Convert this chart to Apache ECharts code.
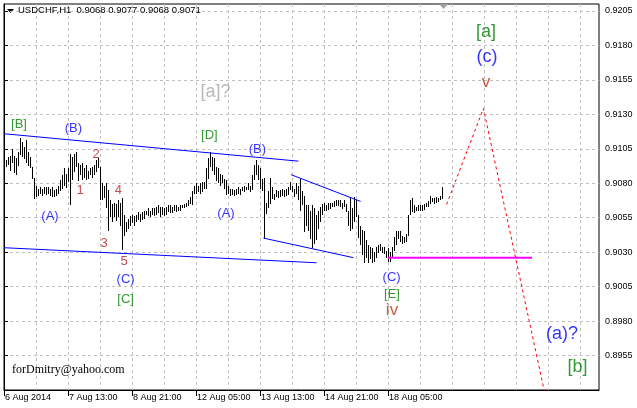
<!DOCTYPE html>
<html><head><meta charset="utf-8">
<script src="https://cdn.jsdelivr.net/npm/echarts@6/dist/echarts.min.js"></script>
<style>html,body{margin:0;padding:0;background:#fff}#c{width:637px;height:408px}</style>
</head><body><div id="c"></div><script>
// ---- data ----
const symbolName = 'USDCHF,H1';
const ohlcNow = [0.9068, 0.9077, 0.9068, 0.9071];
const timeLabels = ['6 Aug 2014','7 Aug 13:00','8 Aug 21:00','12 Aug 05:00','13 Aug 13:00','14 Aug 21:00','18 Aug 05:00'];
const timeLabelBars = [0, 32, 64, 96, 128, 160, 192];
const highs = [
0.9095,0.9097,0.9099,0.9100,0.9105,0.9100,0.9098,0.9103,0.9113,0.9110,
0.9106,0.9111,0.9103,0.9099,0.9092,0.9084,0.9078,0.9076,0.9077,0.9076,
0.9077,0.9077,0.9077,0.9076,0.9077,0.9075,0.9076,0.9078,0.9082,0.9086,
0.9091,0.9087,0.9091,0.9101,0.9099,0.9101,0.9103,0.9095,0.9093,0.9095,
0.9091,0.9093,0.9089,0.9091,0.9092,0.9093,0.9097,0.9098,0.9092,0.9080,
0.9078,0.9080,0.9075,0.9068,0.9065,0.9066,0.9065,0.9068,0.9066,0.9069,
0.9057,0.9052,0.9054,0.9056,0.9057,0.9056,0.9057,0.9059,0.9058,0.9059,
0.9060,0.9060,0.9062,0.9060,0.9062,0.9062,0.9063,0.9064,0.9063,0.9063,
0.9062,0.9063,0.9064,0.9064,0.9063,0.9064,0.9064,0.9063,0.9064,0.9064,
0.9065,0.9066,0.9068,0.9070,0.9074,0.9078,0.9080,0.9078,0.9080,0.9081,
0.9081,0.9091,0.9098,0.9103,0.9099,0.9098,0.9092,0.9091,0.9087,0.9086,
0.9083,0.9082,0.9078,0.9076,0.9076,0.9075,0.9076,0.9077,0.9076,0.9077,
0.9078,0.9077,0.9080,0.9078,0.9086,0.9093,0.9097,0.9093,0.9091,0.9083,
0.9084,0.9066,0.9074,0.9084,0.9077,0.9072,0.9075,0.9074,0.9075,0.9076,
0.9075,0.9076,0.9077,0.9081,0.9078,0.9076,0.9080,0.9078,0.9083,0.9074,
0.9071,0.9064,0.9064,0.9060,0.9064,0.9062,0.9057,0.9060,0.9063,0.9065,
0.9066,0.9064,0.9066,0.9066,0.9066,0.9067,0.9068,0.9068,0.9068,0.9066,
0.9068,0.9065,0.9060,0.9069,0.9062,0.9070,0.9068,0.9057,0.9049,0.9046,
0.9045,0.9039,0.9035,0.9034,0.9033,0.9030,0.9034,0.9035,0.9036,0.9034,
0.9034,0.9031,0.9033,0.9030,0.9034,0.9041,0.9045,0.9045,0.9045,0.9042,
0.9041,0.9043,0.9057,0.9068,0.9069,0.9064,0.9063,0.9064,0.9064,0.9064,
0.9065,0.9066,0.9067,0.9071,0.9069,0.9069,0.9070,0.9069,0.9071,0.9077];
const lows = [
0.9091,0.9092,0.9093,0.9089,0.9095,0.9088,0.9086,0.9093,0.9101,0.9099,
0.9097,0.9094,0.9093,0.9091,0.9083,0.9069,0.9070,0.9071,0.9072,0.9071,
0.9072,0.9071,0.9072,0.9071,0.9070,0.9070,0.9071,0.9072,0.9074,0.9076,
0.9078,0.9077,0.9081,0.9064,0.9082,0.9088,0.9092,0.9082,0.9086,0.9083,
0.9084,0.9082,0.9083,0.9086,0.9084,0.9086,0.9088,0.9091,0.9068,0.9068,
0.9069,0.9062,0.9045,0.9056,0.9052,0.9056,0.9053,0.9056,0.9049,0.9031,
0.9042,0.9045,0.9047,0.9049,0.9051,0.9049,0.9052,0.9053,0.9052,0.9053,
0.9054,0.9057,0.9056,0.9056,0.9057,0.9056,0.9057,0.9058,0.9056,0.9057,
0.9056,0.9057,0.9059,0.9058,0.9059,0.9060,0.9059,0.9060,0.9060,0.9062,
0.9062,0.9063,0.9064,0.9065,0.9064,0.9072,0.9072,0.9074,0.9072,0.9074,
0.9076,0.9076,0.9083,0.9092,0.9089,0.9086,0.9082,0.9080,0.9078,0.9080,
0.9076,0.9071,0.9072,0.9071,0.9072,0.9071,0.9072,0.9072,0.9072,0.9074,
0.9074,0.9075,0.9075,0.9074,0.9075,0.9082,0.9086,0.9082,0.9076,0.9074,
0.9040,0.9058,0.9062,0.9065,0.9068,0.9068,0.9070,0.9069,0.9070,0.9071,
0.9070,0.9071,0.9071,0.9075,0.9074,0.9070,0.9072,0.9068,0.9060,0.9064,
0.9045,0.9049,0.9045,0.9040,0.9033,0.9036,0.9039,0.9047,0.9052,0.9057,
0.9060,0.9060,0.9061,0.9062,0.9063,0.9063,0.9064,0.9064,0.9063,0.9062,
0.9063,0.9059,0.9049,0.9045,0.9047,0.9052,0.9056,0.9040,0.9035,0.9028,
0.9022,0.9026,0.9022,0.9025,0.9022,0.9023,0.9026,0.9029,0.9031,0.9030,
0.9029,0.9026,0.9023,0.9023,0.9026,0.9031,0.9035,0.9039,0.9037,0.9036,
0.9037,0.9037,0.9042,0.9057,0.9059,0.9058,0.9060,0.9060,0.9060,0.9060,
0.9061,0.9063,0.9063,0.9065,0.9066,0.9065,0.9066,0.9066,0.9068,0.9068];
// trend lines: [barIndex, price]
const upperLine = [[0, 0.91159], [147.2, 0.90960]];
const lowerLine = [[0, 0.90332], [156.3, 0.90223]];
const channelUpper = [[143.5, 0.90862], [178.3, 0.90668]];
const channelLower = [[129.7, 0.90402], [174.7, 0.90260]];
const projection = [[221.3, 0.90646], [239.7, 0.91342], [270.2, 0.8929]];
const supportLine = [[192, 0.9026], [264, 0.9026]];
// wave labels
const waveText = ['[B]','(B)','2','1','4','3','5','(A)','(C)','[C]','[a]?','[D]','(A)','(B)','(C)','[E]','iv','[a]','(c)','v','(a)?','[b]'];
const waveX = [7.5,34.7,46,38,57.2,50,60,23,60.8,60.8,105.7,102.7,111,126.7,193.8,194,194,241,241.5,241,279,286.8];
const waveY = [0.9123,0.91195,0.9101,0.9075,0.9075,0.9036,0.9023,0.9056,0.9010,0.8996,0.9146,0.91146,0.9058,0.91043,0.90117,0.89996,0.89876,0.91898,0.91717,0.91535,0.89709,0.8947];
const waveKind = ['G','B','R','R','R','R','R','B','B','G','Q','G','B','B','B','G','R2','G2','B2','R2','B2','G2'];

// ---- styles ----
const kindStyle = {
  G:{color:'#008000',fontSize:13}, B:{color:'#0000ff',fontSize:13}, R:{color:'#b22222',fontSize:13},
  Q:{color:'#a8a8a8',fontSize:18}, R2:{color:'#b5331c',fontSize:17}, G2:{color:'#008000',fontSize:18},
  B2:{color:'#0000ff',fontSize:18}
};
const axisFont = 'Liberation Sans, Arial, sans-serif';
const gridDash = {color:'#c0c0c0', type:[3,3], width:1};

const chart = echarts.init(document.getElementById('c'), null, {renderer:'canvas'});
const lineSeries = (data, color, width, type) => ({
  type:'line', data, showSymbol:false, silent:true, animation:false, clip:true, z:4,
  lineStyle:{color, width, type: type || 'solid'}
});
chart.setOption({
  animation:false,
  backgroundColor:'#fff',
  title:[
    {text: symbolName + '  ' + ohlcNow.map(v=>v.toFixed(4)).join(' '), left:18, top:5, padding:0,
     textStyle:{fontSize:9.5, fontWeight:'normal', fontFamily:axisFont, color:'#000', lineHeight:11}},
    {text:'forDmitry@yahoo.com', left:12, top:364, padding:0,
     textStyle:{fontSize:12, fontWeight:'normal', fontFamily:'Liberation Serif, Times New Roman, serif', color:'#000', lineHeight:12}}
  ],
  graphic:[
    {type:'polygon', shape:{points:[[7,9],[14,9],[10.5,13]]}, style:{fill:'#000'}},
    {type:'polygon', shape:{points:[[439,4],[448,4],[443.5,9]]}, style:{fill:'#a0a0a0'}, z:10}
  ],
  grid:{left:4, right:38, top:4, bottom:18, show:true, borderColor:'#000', borderWidth:1, backgroundColor:'#fff'},
  xAxis:[
    {type:'value', min:0, max:297.5, interval:16, position:'bottom',
     axisLine:{show:true, lineStyle:{color:'#000'}}, axisTick:{show:false}, axisLabel:{show:false},
     splitLine:{show:true, showMinLine:false, showMaxLine:false, lineStyle:gridDash}},
    {type:'value', min:0, max:297.5, interval:32, position:'bottom',
     axisLine:{show:false}, splitLine:{show:false},
     axisTick:{show:true, length:6, customValues:timeLabelBars, lineStyle:{color:'#000'}},
     axisLabel:{show:true, customValues:timeLabelBars, hideOverlap:false, align:'left', margin:3, padding:[0,0,0,1],
       fontSize:9, fontFamily:axisFont, color:'#000',
       formatter:(v)=>{const k=timeLabelBars.indexOf(Math.round(v)); return k>=0 ? timeLabels[k] : '';}}}
  ],
  yAxis:{type:'value', position:'right', min:0.8930, max:0.9210, interval:0.0025, scale:true,
    axisLine:{show:true, lineStyle:{color:'#000'}},
    axisTick:{show:true, length:4, lineStyle:{color:'#000'}},
    axisLabel:{show:true, showMinLabel:false, showMaxLabel:false, margin:6, fontSize:9, fontFamily:axisFont, color:'#000',
      formatter:(v)=>v.toFixed(4)},
    splitLine:{show:true, showMinLine:false, showMaxLine:false, lineStyle:gridDash}},
  series:[
    {type:'custom', silent:true, clip:true, z:3,
     data: highs.map((h,i)=>[i, lows[i], h]),
     encode:{x:0, y:[1,2]},
     renderItem:(params, api)=>{
       const top = api.coord([api.value(0), api.value(2)]);
       const bot = api.coord([api.value(0), api.value(1)]);
       return {type:'rect', shape:{x:Math.round(top[0]), y:Math.round(top[1]), width:1, height:Math.max(1, Math.round(bot[1]-top[1]))},
               style:{fill:'#000'}};
     }},
    lineSeries(upperLine, '#0000ff', 1),
    lineSeries(lowerLine, '#0000ff', 1),
    lineSeries(channelUpper, '#0000ff', 1),
    lineSeries(channelLower, '#0000ff', 1),
    lineSeries(supportLine, '#ff00ff', 2),
    lineSeries(projection, '#ff0000', 1, [3,3]),
    {type:'scatter', silent:true, symbolSize:0, z:6, clip:false,
     data: waveText.map((t,i)=>({value:[waveX[i], waveY[i]], name:t,
       label:{show:true, position:'inside', formatter:t, fontFamily:axisFont,
              color:kindStyle[waveKind[i]].color, fontSize:kindStyle[waveKind[i]].fontSize}}))}
  ]
});
</script></body></html>
